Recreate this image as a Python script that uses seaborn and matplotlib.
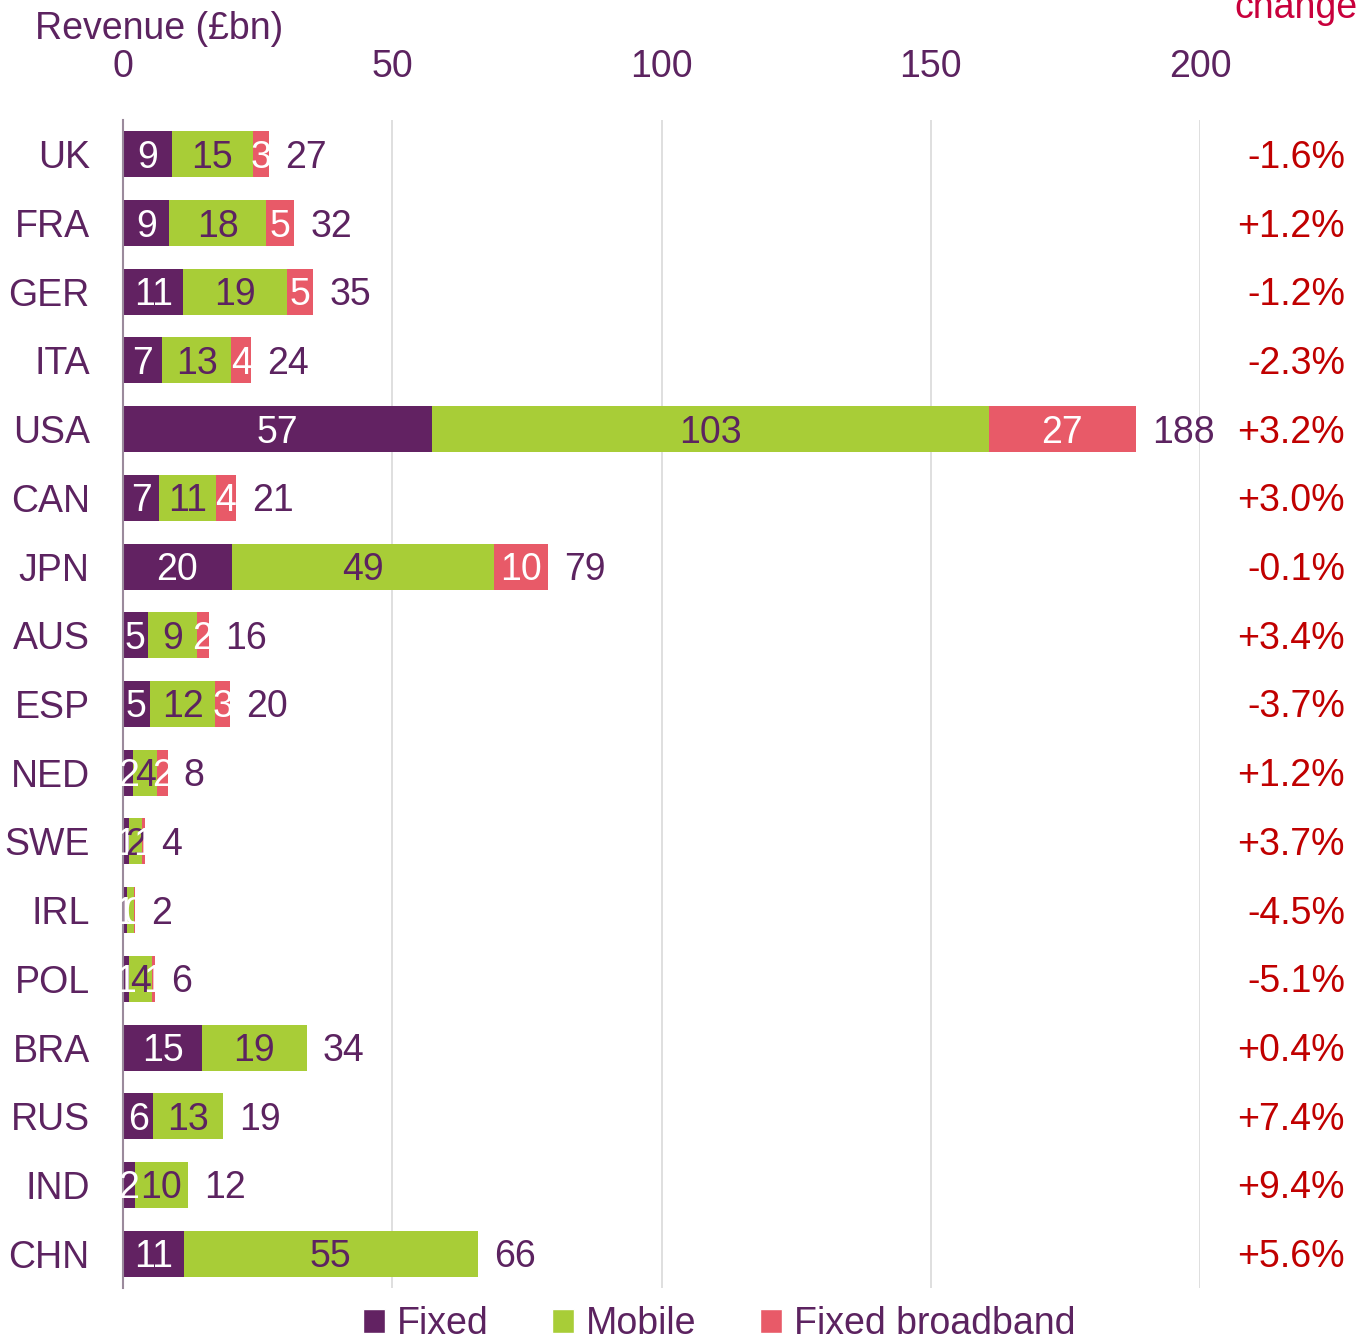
import numpy as np
import pandas as pd
import matplotlib
matplotlib.use("Agg")
import matplotlib.pyplot as plt
import matplotlib.transforms as mtransforms
import seaborn as sns
from matplotlib.patches import Patch

countries = ["UK", "FRA", "GER", "ITA", "USA", "CAN", "JPN", "AUS", "ESP",
             "NED", "SWE", "IRL", "POL", "BRA", "RUS", "IND", "CHN"]
fixed = [9.1, 8.6, 11.2, 7.2, 57.4, 6.7, 20.2, 4.6, 5.0,
         1.9, 1.1, 0.7, 1.1, 14.7, 5.6, 2.2, 11.3]
mobile = [15.0, 18.0, 19.2, 12.9, 103.4, 10.6, 48.7, 9.1, 12.1,
          4.4, 2.4, 1.3, 4.3, 19.4, 13.0, 9.8, 54.6]
broadband = [3.0, 5.2, 4.9, 3.7, 27.3, 3.6, 10.0, 2.2, 2.8,
             2.0, 0.6, 0.2, 0.6, 0.0, 0.0, 0.0, 0.0]
change = ["-1.6%", "+1.2%", "-1.2%", "-2.3%", "+3.2%", "+3.0%", "-0.1%", "+3.4%",
          "-3.7%", "+1.2%", "+3.7%", "-4.5%", "-5.1%", "+0.4%", "+7.4%", "+9.4%", "+5.6%"]
x_ticks = [0, 50, 100, 150, 200]

C_FIXED = "#622262"
C_MOBILE = "#a8cd37"
C_BB = "#e85a68"
C_TEXT = "#5c2360"
C_RED = "#c00000"

sns.set_theme(style="white")
plt.rcParams["font.family"] = ["Liberation Sans", "DejaVu Sans"]
FS = 27

df = pd.DataFrame({"country": countries, "fixed": fixed, "mobile": mobile,
                   "broadband": broadband})
df["fm"] = df["fixed"] + df["mobile"]
df["total"] = df["fm"] + df["broadband"]

W, H = 1368, 1337
fig = plt.figure(figsize=(W / 100, H / 100), dpi=100)
ax = fig.add_axes([123 / W, 1 - 1288 / H, 1077 / W, (1288 - 120) / H])

bw = 0.67
sns.barplot(data=df, y="country", x="total", color=C_BB, width=bw, ax=ax,
            orient="h", saturation=1, linewidth=0)
sns.barplot(data=df, y="country", x="fm", color=C_MOBILE, width=bw, ax=ax,
            orient="h", saturation=1, linewidth=0)
sns.barplot(data=df, y="country", x="fixed", color=C_FIXED, width=bw, ax=ax,
            orient="h", saturation=1, linewidth=0)

ax.set_xlim(0, 200)
ax.set_ylim(len(countries) - 0.5, -0.5)
ax.set_xlabel("")
ax.set_ylabel("")

shift = mtransforms.ScaledTranslation(0, -3.5 / 100, fig.dpi_scale_trans)
tdata = ax.transData + shift
tyax = ax.get_yaxis_transform() + shift

for i, row in df.iterrows():
    f, m, b, t = row["fixed"], row["mobile"], row["broadband"], row["total"]
    ax.text(f / 2, i, f"{f:.0f}", ha="center", va="center", color="white",
            fontsize=FS, clip_on=False, transform=tdata)
    if not (m < 1.5 and f < 1.0):
        ax.text(f + m / 2, i, f"{m:.0f}", ha="center", va="center", color=C_TEXT,
                fontsize=FS, clip_on=False, transform=tdata)
    if b > 0:
        ax.text(f + m + b / 2, i, f"{b:.0f}", ha="center", va="center", color="white",
                fontsize=FS, clip_on=False, transform=tdata)
    ax.text(t + 3, i, f"{t:.0f}", ha="left", va="center", color=C_TEXT,
            fontsize=FS, clip_on=False, transform=tdata)
    ax.text((1345 - 123) / 1077, i, change[i], ha="right", va="center",
            color=C_RED, fontsize=FS, transform=tyax, clip_on=False)

# axes styling
ax.xaxis.tick_top()
ax.set_xticks(x_ticks)
ax.set_xticklabels([str(v) for v in x_ticks])
ax.tick_params(axis="x", length=0, pad=25, labelsize=FS, labelcolor=C_TEXT)
ax.grid(axis="x", color="#d9d9d9", linewidth=1.2)
ax.set_axisbelow(True)
for s in ["top", "right", "bottom"]:
    ax.spines[s].set_visible(False)
ax.spines["left"].set_color("#9b8a9c")
ax.spines["left"].set_linewidth(1.5)
ax.tick_params(axis="y", which="major", length=0, pad=24, labelsize=FS,
               labelcolor=C_TEXT)
ax.set_yticks(np.arange(-0.5, len(countries), 1.0), minor=True)
ax.tick_params(axis="y", which="minor", length=8, width=1.5, color="#9b8a9c",
               direction="out")

fig.text(35 / W, 1 - 29 / H, "Revenue (£bn)", ha="left", va="center",
         color=C_TEXT, fontsize=FS)
fig.text(1357 / W, 1 - 8 / H, "change", ha="right", va="center",
         color="#c8003c", fontsize=FS)

handles = [Patch(facecolor=C_FIXED, label="Fixed"),
           Patch(facecolor=C_MOBILE, label="Mobile"),
           Patch(facecolor=C_BB, label="Fixed broadband")]
fig.legend(handles=handles, loc="center", bbox_to_anchor=(719 / W, 1 - 1324 / H),
           ncol=3, frameon=False, fontsize=FS, labelcolor=C_TEXT,
           handlelength=0.6, handleheight=0.6, handletextpad=0.3,
           columnspacing=1.7, borderpad=0)

fig.savefig("out.png", dpi=100)
